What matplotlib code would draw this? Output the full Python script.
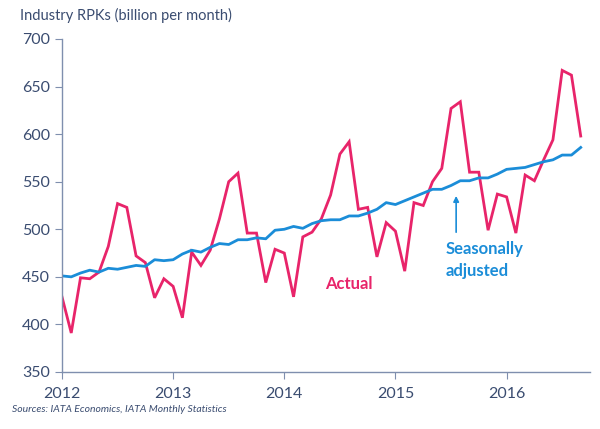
import matplotlib
matplotlib.use("Agg")
import matplotlib.pyplot as plt
import numpy as np

# Monthly data, Jan 2012 - Sep 2016 (billion RPKs per month)
actual = [
    429, 391, 449, 448, 455, 482, 527, 523, 472, 465, 428, 448,
    440, 407, 476, 462, 478, 511, 550, 559, 496, 496, 444, 479,
    475, 429, 492, 497, 511, 536, 579, 592, 521, 523, 471, 507,
    498, 456, 528, 525, 550, 564, 627, 634, 560, 560, 499, 537,
    534, 496, 557, 551, 573, 594, 667, 662, 598,
]
seasonal = [
    451, 450, 454, 457, 455, 459, 458, 460, 462, 461, 468, 467,
    468, 474, 478, 476, 481, 485, 484, 489, 489, 491, 490, 499,
    500, 503, 501, 506, 509, 510, 510, 514, 514, 517, 521, 528,
    526, 530, 534, 538, 542, 542, 546, 551, 551, 554, 554, 558,
    563, 564, 565, 568, 571, 573, 578, 578, 586,
]
years = [2012, 2013, 2014, 2015, 2016]
y_ticks = [350, 400, 450, 500, 550, 600, 650, 700]

months = 2012 + np.arange(len(actual)) / 12.0

pink = "#E8246A"
blue = "#1B8DD8"
text_col = "#3A4C70"
spine_col = "#7F8FAE"

plt.rcParams["font.family"] = ["Lato", "DejaVu Sans"]

fig = plt.figure(figsize=(6, 4.29), dpi=100)
ax = fig.add_axes([0.1033, 0.1329, 0.8800, 0.7762])

ax.plot(months, actual, color=pink, linewidth=2.0, solid_joinstyle="miter")
ax.plot(months, seasonal, color=blue, linewidth=2.0)

ax.set_xlim(2012, 2016.75)
ax.set_ylim(350, 700)
ax.set_xticks(years)
ax.set_xticklabels([str(y) for y in years])
ax.set_yticks(y_ticks)

for s in ["top", "right"]:
    ax.spines[s].set_visible(False)
for s in ["left", "bottom"]:
    ax.spines[s].set_color(spine_col)
    ax.spines[s].set_linewidth(1.0)
ax.tick_params(axis="both", colors=spine_col, direction="out", length=5,
               labelsize=11.5, labelcolor=text_col)
ax.tick_params(axis="x", pad=6)

# annotations
ax.text(2014.58, 442, "Actual", color=pink, fontsize=12, fontweight="bold",
        ha="center", va="center")
ax.annotate("", xy=(2015.546, 538), xytext=(2015.546, 494),
            arrowprops=dict(arrowstyle="-|>", color=blue, lw=1.2,
                            mutation_scale=8))
ax.text(2015.45, 488, "Seasonally\nadjusted", color=blue, fontsize=12,
        fontweight="bold", ha="left", va="top", linespacing=1.5)

fig.text(0.034, 0.965, "Industry RPKs (billion per month)", color=text_col,
         fontsize=10.5, ha="left", va="center")
fig.text(0.02, 0.045, "Sources: IATA Economics, IATA Monthly Statistics",
         color=text_col, fontsize=7.5, style="italic", ha="left", va="center")

fig.savefig("out.png", dpi=100)
